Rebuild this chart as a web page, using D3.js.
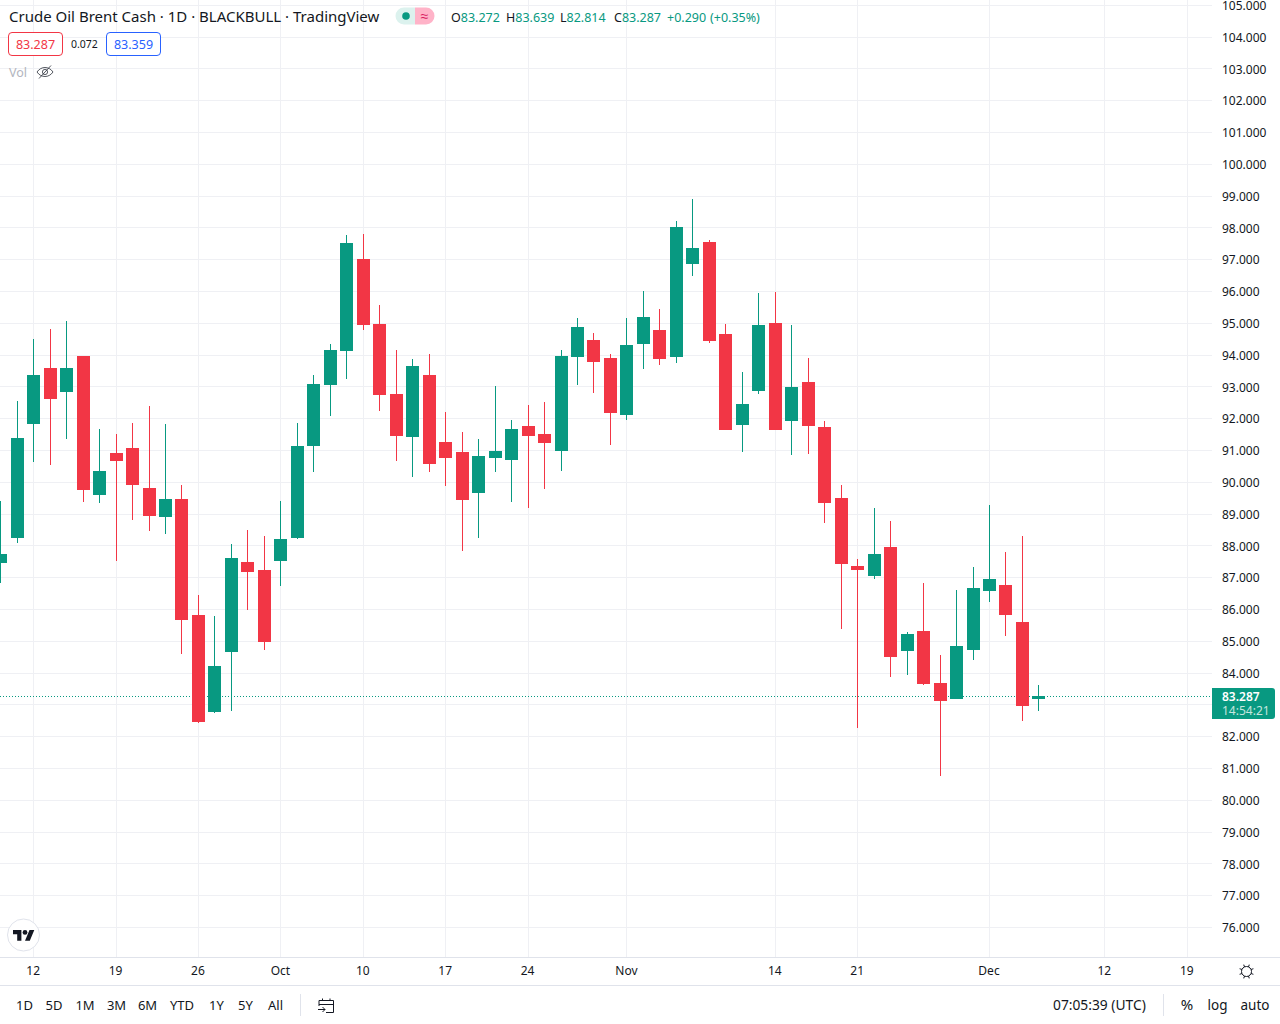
<!DOCTYPE html>
<html>
<head>
<meta charset="utf-8">
<script src="https://cdn.jsdelivr.net/npm/d3@7"></script>
<style>
  html, body { margin: 0; padding: 0; background: #fff; }
  svg { display: block; font-family: "Noto Sans", sans-serif; }
  text { fill: #131722; }
  .axis text { font-size: 12px; font-family: "Noto Sans", sans-serif; fill: #131722; }
  .axis path, .axis line { display: none; }
  .range text { font-size: 13px; }
</style>
</head>
<body>
<script>
// daily bars
var opens = [87.47,88.25,91.83,93.59,92.84,93.97,89.60,90.92,91.08,89.82,88.91,89.47,85.83,82.78,84.66,87.49,87.24,
  87.53,88.25,91.14,93.06,94.13,97.02,94.98,92.78,91.42,93.37,91.27,90.95,89.66,90.76,90.70,91.77,91.52,90.98,93.94,
  94.47,93.91,92.12,94.35,94.79,93.94,96.86,97.56,94.66,91.80,92.87,95.01,91.93,93.15,91.74,89.51,87.37,87.05,87.97,
  84.69,85.32,83.69,83.19,84.73,86.58,86.77,85.61,83.272];
var highs = [89.41,92.56,94.51,94.82,95.07,93.97,91.68,91.52,91.86,92.40,91.83,89.92,86.46,85.80,88.06,88.50,88.31,
  89.41,91.86,93.37,94.35,97.78,97.81,95.58,94.16,93.88,94.03,92.21,91.58,91.36,93.03,91.96,92.43,92.53,94.16,95.17,
  94.69,94.03,95.17,96.02,95.45,98.22,98.91,97.62,94.98,93.47,95.95,95.98,94.95,93.91,91.93,89.92,87.59,89.19,88.78,
  85.29,86.83,84.57,86.61,87.34,89.29,87.81,88.31,83.639];
var lows = [86.84,88.10,90.65,90.54,91.36,89.38,89.35,87.53,88.81,88.47,88.37,84.60,82.43,82.75,82.81,85.98,84.73,
  86.74,88.22,90.32,92.08,93.25,94.79,92.24,90.67,90.17,90.32,89.88,87.84,88.25,90.32,89.38,89.19,89.79,90.36,93.06,
  92.81,91.17,91.96,93.56,93.69,93.75,96.49,94.38,91.64,90.95,92.78,91.64,90.86,90.89,88.72,85.39,82.27,86.96,83.88,
  83.94,83.63,80.76,83.19,84.41,86.24,85.17,82.49,82.814];
var closes = [87.75,91.39,93.37,92.62,93.59,89.76,90.36,90.67,89.92,88.94,89.47,85.67,82.46,84.22,87.62,87.18,84.98,
  88.22,91.14,93.09,94.16,97.53,94.95,92.75,91.46,93.66,90.58,90.76,89.44,90.83,90.98,91.68,91.46,91.24,93.97,94.88,
  93.78,92.18,94.32,95.20,93.88,98.03,97.37,94.44,91.64,92.46,94.95,91.64,93.00,91.77,89.35,87.43,87.24,87.75,84.51,
  85.23,83.66,83.12,84.85,86.68,86.96,85.83,82.97,83.287];

var priceTicks = d3.range(76, 106);
// the price tag covers the 83 label
var priceLabels = priceTicks.filter(d => d != 83);
// bar index of each date label; the last two sit in the empty space on the right
var dateIdx = [2, 7, 12, 17, 22, 27, 32, 38, 47, 52, 60, 67, 72];
var dateLabels = ['12', '19', '26', 'Oct', '10', '17', '24', 'Nov', '14', '21', 'Dec', '12', '19'];
var lastPrice = 83.287;
var countdown = '14:54:21';
var rangeLabels = ['1D', '5D', '1M', '3M', '6M', 'YTD', '1Y', '5Y', 'All'];
var rangeX = [24.5, 54, 85, 116.5, 147.5, 182, 216.5, 245.5, 275.5];
var ohlcNames = ['O', 'H', 'L', 'C'];
var ohlcValues = ['83.272', '83.639', '82.814', '83.287'];
var ohlcX = [451, 506, 560, 614];

var width = 1280, height = 1024;
var paneRight = 1212, paneBottom = 957;
var green = '#089981', red = '#f23645', gridCol = '#eff0f4', lineCol = '#e0e3eb';

var svg = d3.select('body').append('svg').attr('width', width).attr('height', height);

var x = d3.scaleLinear().domain([0, 63]).range([0.7, 1038.94]);
var y = d3.scaleLinear().domain([76, 105]).range([927.5, 5.3]);

// grid
svg.append('g').selectAll('line').data(priceTicks).enter().append('line')
  .attr('x1', 0).attr('x2', paneRight)
  .attr('y1', d => Math.floor(y(d)) + 0.5).attr('y2', d => Math.floor(y(d)) + 0.5)
  .attr('stroke', gridCol);
svg.append('g').selectAll('line').data(dateIdx).enter().append('line')
  .attr('y1', 0).attr('y2', paneBottom)
  .attr('x1', d => Math.floor(x(d)) + 0.5).attr('x2', d => Math.floor(x(d)) + 0.5)
  .attr('stroke', gridCol);

// last price line
svg.append('line')
  .attr('x1', 0).attr('x2', paneRight)
  .attr('y1', Math.round(y(lastPrice)) + 0.5).attr('y2', Math.round(y(lastPrice)) + 0.5)
  .attr('stroke', green).attr('stroke-dasharray', '1 2');

// candles
var candle = svg.append('g').attr('shape-rendering', 'crispEdges')
  .selectAll('g').data(opens).enter().append('g')
  .attr('fill', (d, i) => closes[i] >= d ? green : red);
candle.append('rect')
  .attr('x', (d, i) => Math.floor(x(i)))
  .attr('width', 1)
  .attr('y', (d, i) => y(highs[i]))
  .attr('height', (d, i) => y(lows[i]) - y(highs[i]));
candle.append('rect')
  .attr('x', (d, i) => Math.floor(x(i)) - 6)
  .attr('width', 13)
  .attr('y', (d, i) => Math.min(y(d), y(closes[i])))
  .attr('height', (d, i) => Math.max(3, Math.abs(y(d) - y(closes[i]))));

// frame of the axes
svg.append('rect').attr('x', 0).attr('y', paneBottom).attr('width', width).attr('height', 1).attr('fill', lineCol);
svg.append('rect').attr('x', 0).attr('y', 985).attr('width', width).attr('height', 1).attr('fill', lineCol);

// price axis
svg.append('g').attr('class', 'axis')
  .attr('transform', `translate(${paneRight},0)`)
  .call(d3.axisRight(y).tickValues(priceLabels).tickSize(0).tickPadding(10).tickFormat(d3.format('.3f')))
  .selectAll('text').attr('y', 0.4);

// date axis
var dateAxis = d3.axisBottom(x).tickValues(dateIdx).tickSize(0).tickPadding(9)
  .tickFormat(d => dateLabels[dateIdx.indexOf(d)]);
svg.append('g').attr('class', 'axis')
  .attr('transform', `translate(0,${paneBottom})`)
  .call(dateAxis)
  .selectAll('text').attr('x', -1);

// price tag
var tagY = Math.round(y(lastPrice)) - 8;
svg.append('path')
  .attr('d', `M${paneRight} ${tagY}H1272a3 3 0 0 1 3 3V${tagY + 28}a3 3 0 0 1 -3 3H${paneRight}Z`)
  .attr('fill', green);
svg.append('text').attr('x', 1222).attr('y', tagY + 13).attr('font-size', 12).attr('font-weight', 600)
  .style('fill', '#fff').text(d3.format('.3f')(lastPrice));
svg.append('text').attr('x', 1222).attr('y', tagY + 27).attr('font-size', 12)
  .style('fill', '#c4e6df').text(countdown);

// header
svg.append('text').attr('x', 9).attr('y', 22).attr('font-size', 15)
  .text('Crude Oil Brent Cash \u00b7 1D \u00b7 BLACKBULL \u00b7 TradingView');

svg.append('path').attr('d', 'M415 7.5H404a8.5 8.5 0 0 0 0 17H415Z').attr('fill', '#dcf2ee');
svg.append('path').attr('d', 'M415 7.5H426a8.5 8.5 0 0 1 0 17H415Z').attr('fill', '#ffb3c8');
svg.append('circle').attr('cx', 406).attr('cy', 16).attr('r', 3.8).attr('fill', green);
svg.append('text').attr('x', 424.5).attr('y', 21).attr('text-anchor', 'middle').attr('font-size', 14)
  .style('fill', '#d81b60').text('\u2248');

ohlcNames.forEach(function (n, i) {
  var t = svg.append('text').attr('x', ohlcX[i]).attr('y', 22).attr('font-size', 12.5);
  t.append('tspan').text(n);
  t.append('tspan').style('fill', green).text(ohlcValues[i]);
});
svg.append('text').attr('x', 667).attr('y', 22).attr('font-size', 12.5).style('fill', green).text('+0.290');
svg.append('text').attr('x', 710).attr('y', 22).attr('font-size', 12.5).style('fill', green).text('(+0.35%)');

svg.append('rect').attr('x', 8.5).attr('y', 32.5).attr('width', 54).attr('height', 23).attr('rx', 3.5)
  .attr('fill', '#fff').attr('stroke', red);
svg.append('text').attr('x', 35.5).attr('y', 49).attr('text-anchor', 'middle').attr('font-size', 12.5)
  .style('fill', red).text('83.287');
svg.append('text').attr('x', 71).attr('y', 48).attr('font-size', 10.5).text('0.072');
svg.append('rect').attr('x', 106.5).attr('y', 32.5).attr('width', 54).attr('height', 23).attr('rx', 3.5)
  .attr('fill', '#fff').attr('stroke', '#2962ff');
svg.append('text').attr('x', 133.5).attr('y', 49).attr('text-anchor', 'middle').attr('font-size', 12.5)
  .style('fill', '#2962ff').text('83.359');

svg.append('text').attr('x', 9).attr('y', 77).attr('font-size', 12.5).style('fill', '#b2b5be').text('Vol');
svg.append('g').attr('transform', 'translate(45,72)').attr('fill', 'none').attr('stroke', '#2a2e39').attr('stroke-width', 0.8)
  .call(function (g) {
    g.append('path').attr('d', 'M-8 0C-4 -6 4 -6 8 0C4 6 -4 6 -8 0Z');
    g.append('circle').attr('r', 2.6);
    g.append('path').attr('d', 'M-6 6.5L6 -6.5');
  });

// logo
svg.append('circle').attr('cx', 23.5).attr('cy', 935).attr('r', 16).attr('fill', '#fff').attr('stroke', lineCol);
svg.append('g').attr('transform', 'translate(13,927.6) scale(0.6)').attr('fill', '#131722')
  .call(function (g) {
    g.append('path').attr('d', 'M14 22H7V11H0V4h14v18zM28 22h-8l7.5-18h8L28 22z');
    g.append('circle').attr('cx', 20).attr('cy', 8).attr('r', 4);
  });

// gear
svg.append('g').attr('transform', 'translate(1246.5,971.5)').attr('fill', 'none').attr('stroke', '#131722').attr('stroke-width', 1)
  .call(function (g) {
    g.append('circle').attr('r', 5);
    d3.range(0, 360, 45).forEach(function (a) {
      g.append('line').attr('x1', 5).attr('x2', 7.5).attr('transform', `rotate(${a + 22.5})`);
    });
  });

// bottom toolbar
svg.append('g').attr('class', 'range').selectAll('text').data(rangeLabels).enter().append('text')
  .attr('x', (d, i) => rangeX[i]).attr('y', 1010).attr('text-anchor', 'middle').text(d => d);
svg.append('rect').attr('x', 300).attr('y', 994).attr('width', 1).attr('height', 22).attr('fill', lineCol);
svg.append('g').attr('transform', 'translate(318,997)').attr('fill', 'none').attr('stroke', '#131722').attr('stroke-width', 1)
  .append('path').attr('d', 'M1 9V3.5H15.5V15.5H8M1 7.5H15.5M4.5 1.5V4M12 1.5V4M0 12.5H7M4.5 10L7 12.5L4.5 15');
svg.append('text').attr('x', 1053).attr('y', 1010).attr('font-size', 13.8).text('07:05:39 (UTC)');
svg.append('rect').attr('x', 1163).attr('y', 994).attr('width', 1).attr('height', 22).attr('fill', lineCol);
svg.append('text').attr('x', 1187).attr('y', 1010).attr('text-anchor', 'middle').attr('font-size', 15).text('%');
svg.append('text').attr('x', 1217.5).attr('y', 1010).attr('text-anchor', 'middle').attr('font-size', 13.5).text('log');
svg.append('text').attr('x', 1255).attr('y', 1010).attr('text-anchor', 'middle').attr('font-size', 13.5).text('auto');
</script>
</body>
</html>
